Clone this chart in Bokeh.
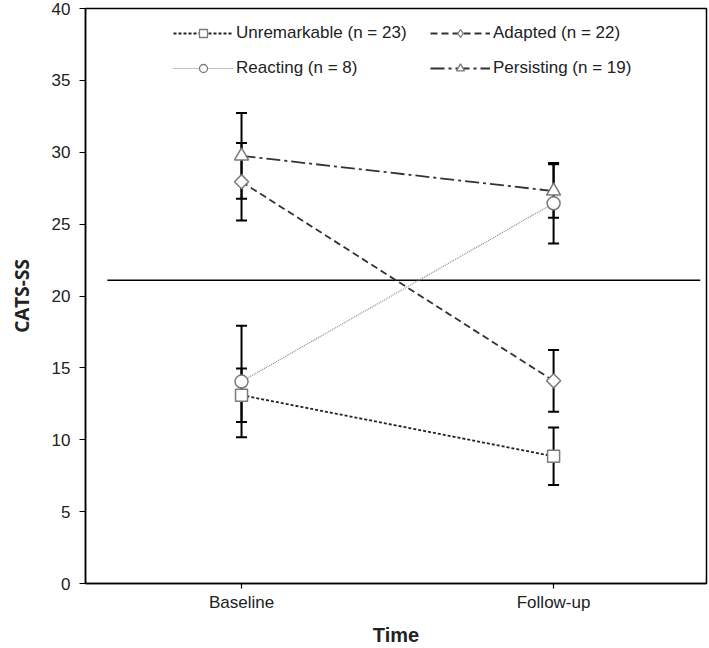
import math
from bokeh.plotting import figure
from bokeh.models import (ColumnDataSource, Whisker, TeeHead, Legend, LegendItem,
                          FixedTicker, Range1d)
from bokeh.embed import file_html
from bokeh.resources import INLINE

# ---- data -------------------------------------------------------------
times = ["Baseline", "Follow-up"]
time_pos = [1, 2]
group_labels = ["Unremarkable (n = 23)", "Adapted (n = 22)",
                "Reacting (n = 8)", "Persisting (n = 19)"]
unremarkable = [13.1, 8.85]
unremarkable_err = [1.86, 2.0]
adapted = [27.95, 14.1]
adapted_err = [2.7, 2.15]
reacting = [14.05, 26.45]
reacting_err = [3.88, 2.8]
persisting = [29.75, 27.3]
persisting_err = [2.98, 1.86]
cutoff = [21.1]
cutoff_x = [0.57, 2.47]
y_ticks = [0, 5, 10, 15, 20, 25, 30, 35, 40]

FONT = "Liberation Sans"

p = figure(width=709, height=648, x_range=Range1d(0.5, 2.49), y_range=Range1d(0, 40),
           output_backend="svg", toolbar_location=None,
           min_border_left=85, min_border_right=3, min_border_top=8, min_border_bottom=58)
p.grid.visible = False
p.outline_line_color = "black"
p.outline_line_width = 1.5
p.background_fill_color = "white"
p.border_fill_color = "white"

# axes
p.xaxis.ticker = FixedTicker(ticks=time_pos)
p.xaxis.major_label_overrides = {t: s for t, s in zip(time_pos, times)}
p.yaxis.ticker = FixedTicker(ticks=y_ticks)
for ax in (p.xaxis[0], p.yaxis[0]):
    ax.axis_line_color = "black"
    ax.axis_line_width = 1.5
    ax.major_tick_line_color = "black"
    ax.major_tick_line_width = 1.2
    ax.major_tick_in = 0
    ax.major_tick_out = 6
    ax.minor_tick_line_color = None
    ax.major_label_text_font = FONT
    ax.major_label_text_font_size = "17px"
    ax.major_label_text_color = "#222222"
    ax.axis_label_text_font = FONT
    ax.axis_label_text_font_style = "bold"
    ax.axis_label_text_font_size = "20px"
    ax.axis_label_text_color = "#222222"
p.xaxis.axis_label = "Time"
p.yaxis.axis_label = "CATS-SS"
p.yaxis.axis_label_text_font = "Open Sans"
p.yaxis.axis_label_text_font_size = "19px"
p.yaxis.major_label_standoff = 9
p.yaxis.axis_label_standoff = 14
p.xaxis.major_tick_out = 5
p.xaxis.major_label_standoff = 4
p.xaxis.axis_label_standoff = 9

# cutoff line
p.segment(x0=[cutoff_x[0]], y0=cutoff, x1=[cutoff_x[1]], y1=cutoff,
          line_color="black", line_width=1.5)

# (values, errors, plot marker, angle, legend marker, dash, colour, width, size)
series = [
    (unremarkable, unremarkable_err, "square", 0.0, "square", "3 2", "#222222", 1.8, 12),
    (adapted, adapted_err, "square", math.pi / 4, "diamond", "7 4", "#333333", 1.8, 10),
    (reacting, reacting_err, "circle", 0.0, "circle", "1 1", "#8a8a8a", 1.2, 13),
    (persisting, persisting_err, "triangle", 0.0, "triangle", "14 4 3 4", "#333333", 1.8, 14),
]

line_rs, key_rs = [], []
for vals, errs, marker, ang, lmark, dash, lcol, lw, msize in series:
    src = ColumnDataSource(dict(
        x=time_pos, y=vals,
        upper=[v + e for v, e in zip(vals, errs)],
        lower=[v - e for v, e in zip(vals, errs)]))
    lr = p.line("x", "y", source=src, line_color=lcol, line_dash=dash, line_width=lw)
    line_rs.append(lr)
    w = Whisker(base="x", upper="upper", lower="lower", source=src,
                line_color="black", line_width=2,
                upper_head=TeeHead(size=11, line_width=2, line_color="black"),
                lower_head=TeeHead(size=11, line_width=2, line_color="black"))
    p.add_layout(w)

nan = float("nan")
for vals, errs, marker, ang, lmark, dash, lcol, lw, msize in series:
    src = ColumnDataSource(dict(x=time_pos, y=vals))
    p.scatter("x", "y", source=src, marker=marker, size=msize, angle=ang,
              fill_color="white", line_color="#7a7a7a", line_width=1.5)
    # legend key glyph (NaN position: only drawn inside the legend)
    key = p.scatter(x=[nan], y=[nan], marker=lmark, size=msize,
                    fill_color="white", line_color="#7a7a7a", line_width=1.3)
    key_rs.append(key)

# legend: two columns, row-wise order as in the reference
order = [0, 2, 1, 3]
items = [LegendItem(label=group_labels[i], renderers=[line_rs[i], key_rs[i]])
         for i in order]
legend = Legend(items=items, ncols=2, location=(88, 505),
                border_line_color=None, background_fill_alpha=0,
                label_text_font=FONT, label_text_font_size="17px",
                label_text_color="#222222",
                glyph_width=60, glyph_height=20, label_height=20, label_width=179,
                spacing=15, label_standoff=3, padding=0, margin=0)
p.add_layout(legend, "center")

open("out.html", "w").write(file_html(p, INLINE))
